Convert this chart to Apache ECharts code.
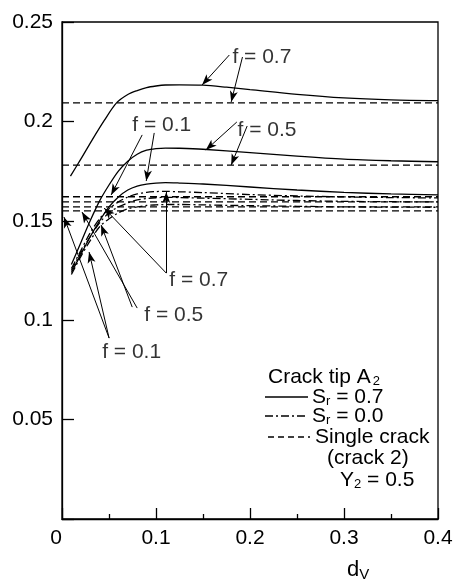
<!DOCTYPE html>
<html>
<head>
<meta charset="utf-8">
<script src="https://cdn.jsdelivr.net/npm/echarts@6/dist/echarts.min.js"></script>
<style>html,body{margin:0;padding:0;background:#fff}#c{width:456px;height:585px}</style>
</head>
<body>
<div id="c"></div>
<script>
// ---- data ----
const xTickLabels = ['0', '0.1', '0.2', '0.3', '0.4'];
const yTickLabels = ['', '0.05', '0.1', '0.15', '0.2', '0.25'];

const xF07 = [0.009, 0.02, 0.032, 0.045, 0.058, 0.07, 0.08, 0.09, 0.1, 0.11, 0.125, 0.15, 0.175, 0.2, 0.25, 0.3, 0.35, 0.4];
const solidF07 = [0.1725, 0.181, 0.1906, 0.2005, 0.2093, 0.2135, 0.2155, 0.217, 0.2178, 0.2183, 0.2184, 0.2182, 0.2172, 0.216, 0.2136, 0.2118, 0.2108, 0.2104];

const xCommon = [0.01, 0.02, 0.03, 0.04, 0.05, 0.06, 0.07, 0.08, 0.09, 0.1, 0.11, 0.125, 0.15, 0.2, 0.25, 0.3, 0.35, 0.4];
const solidF05 = [0.128, 0.139, 0.150, 0.160, 0.168, 0.175, 0.180, 0.1835, 0.1855, 0.1863, 0.1866, 0.1865, 0.186, 0.1843, 0.1825, 0.181, 0.1802, 0.1797];
const solidF01 = [0.124, 0.133, 0.142, 0.150, 0.157, 0.162, 0.1655, 0.1675, 0.1685, 0.169, 0.1692, 0.169, 0.1685, 0.167, 0.1655, 0.1643, 0.1635, 0.163];
const dashdotF07 = [0.126, 0.135, 0.144, 0.151, 0.156, 0.1595, 0.162, 0.1635, 0.1643, 0.1647, 0.1648, 0.1646, 0.1642, 0.1632, 0.1625, 0.162, 0.1617, 0.1615];
const dashdotF05 = [0.125, 0.134, 0.142, 0.149, 0.154, 0.157, 0.159, 0.1605, 0.1612, 0.1616, 0.1618, 0.1617, 0.1614, 0.1608, 0.1602, 0.1598, 0.1596, 0.1595];
const dashdotF01 = [0.123, 0.132, 0.140, 0.147, 0.151, 0.154, 0.156, 0.157, 0.1577, 0.158, 0.1582, 0.1582, 0.158, 0.1576, 0.1573, 0.157, 0.1569, 0.1568];

const singleCrack = [0.2093, 0.178, 0.1621, 0.1595, 0.157, 0.155];

// annotation labels: [x, y, text]
const annoLabels = [
  [0.1813, 0.2324, 'f = 0.7'],
  [0.0747, 0.1982, 'f = 0.1'],
  [0.1867, 0.1957, 'f = 0.5'],
  [0.1141, 0.1202, 'f = 0.7'],
  [0.0875, 0.1026, 'f = 0.5'],
  [0.0427, 0.0840, 'f = 0.1']
];
// arrows: [x1, y1, x2, y2] (tail -> head)
const annoArrows = [
  [0.178, 0.2334, 0.149, 0.2183],
  [0.192, 0.2324, 0.180, 0.2098],
  [0.0853, 0.1932, 0.0523, 0.1630],
  [0.0981, 0.1942, 0.0896, 0.1700],
  [0.186, 0.1997, 0.153, 0.1856],
  [0.197, 0.1977, 0.180, 0.1781],
  [0.1109, 0.1237, 0.1109, 0.1645],
  [0.1109, 0.1237, 0.0448, 0.1564],
  [0.0800, 0.1061, 0.0213, 0.1544],
  [0.0747, 0.1066, 0.0416, 0.1479],
  [0.0501, 0.0910, 0.0021, 0.1519],
  [0.0501, 0.0910, 0.0288, 0.1343]
];

// ---- chart ----
const FONT = 'Liberation Sans';
const FS = 21;
const pair = (xs, ys) => xs.map((x, i) => [x, ys[i]]);
const lineSeries = (xs, ys, type) => ({
  type: 'line', data: pair(xs, ys), showSymbol: false, smooth: 0.3,
  lineStyle: { color: '#000', width: 1.3, type: type }, animation: false, z: 3
});
const DASH = [7, 4];
const DASHDOT = [8, 3, 2, 3];

const series = [
  lineSeries(xF07, solidF07, 'solid'),
  lineSeries(xCommon, solidF05, 'solid'),
  lineSeries(xCommon, solidF01, 'solid'),
  lineSeries(xCommon, dashdotF07, DASHDOT),
  lineSeries(xCommon, dashdotF05, DASHDOT),
  lineSeries(xCommon, dashdotF01, DASHDOT)
];
singleCrack.forEach(v => {
  series.push({
    type: 'line', data: [[0, v], [0.4, v]], showSymbol: false,
    lineStyle: { color: '#000', width: 1.3, type: DASH }, animation: false, z: 2
  });
});
series.push({
  type: 'scatter', symbolSize: 0, animation: false, z: 5,
  data: annoLabels.map(a => [a[0], a[1]]),
  label: {
    show: true, position: 'right', distance: 0,
    formatter: p => annoLabels[p.dataIndex][2],
    color: '#000', fontFamily: FONT, fontSize: FS
  },
  markLine: {
    silent: true, animation: false,
    symbol: ['none', 'arrow'], symbolSize: [6, 11],
    lineStyle: { color: '#000', width: 1, type: 'solid' },
    label: { show: false },
    data: annoArrows.map(a => [{ coord: [a[0], a[1]] }, { coord: [a[2], a[3]] }])
  }
});

const chart = echarts.init(document.getElementById('c'), null, { renderer: 'canvas' });
chart.setOption({
  backgroundColor: '#fff',
  animation: false,
  grid: { left: 62, right: 18, top: 22, bottom: 66, show: true, borderColor: '#000', borderWidth: 1.3, backgroundColor: 'transparent' },
  xAxis: {
    type: 'value', min: 0, max: 0.4, interval: 0.1,
    axisLine: { show: true, lineStyle: { color: '#000', width: 1.3 } },
    axisTick: { show: true, inside: true, length: 11, lineStyle: { color: '#000', width: 1.3 } },
    minorTick: { show: true, splitNumber: 2, length: 5, lineStyle: { color: '#000', width: 1.3 } },
    splitLine: { show: false },
    axisLabel: {
      color: '#000', fontFamily: FONT, fontSize: FS, margin: 9,
      formatter: (v) => {
        const i = Math.round(v / 0.1);
        return i === 0 ? '{z|' + xTickLabels[i] + '}' : xTickLabels[i];
      },
      rich: { z: { fontFamily: FONT, fontSize: FS, color: '#000', padding: [0, 12, 0, 0] } }
    }
  },
  yAxis: {
    type: 'value', min: 0, max: 0.25, interval: 0.05,
    axisLine: { show: true, lineStyle: { color: '#000', width: 1.3 } },
    axisTick: { show: true, inside: true, length: 12, lineStyle: { color: '#000', width: 1.3 } },
    splitLine: { show: false },
    axisLabel: {
      color: '#000', fontFamily: FONT, fontSize: FS, margin: 9,
      formatter: (v) => yTickLabels[Math.round(v / 0.05)]
    }
  },
  graphic: [
    { type: 'text', left: 347, top: 559, style: { text: 'd{s|V}', fontFamily: FONT, fontSize: 22, fill: '#000',
      rich: { s: { fontFamily: FONT, fontSize: 15, fill: '#000', padding: [10, 0, 0, 0] } } } },
    { type: 'text', x: 268, y: 377, style: { text: 'Crack tip A{s|2}', fontFamily: FONT, fontSize: FS, fill: '#000', verticalAlign: 'middle',
      rich: { s: { fontFamily: FONT, fontSize: 13, fill: '#000', padding: [8, 0, 0, 2] } } } },
    { type: 'line', shape: { x1: 265, y1: 397, x2: 308, y2: 397 }, style: { stroke: '#000', lineWidth: 1.3 } },
    { type: 'text', x: 312, y: 397, style: { text: 'S{s|r} = 0.7', fontFamily: FONT, fontSize: FS, fill: '#000', verticalAlign: 'middle',
      rich: { s: { fontFamily: FONT, fontSize: 13, fill: '#000', padding: [8, 0, 0, 0] } } } },
    { type: 'line', shape: { x1: 265, y1: 416, x2: 308, y2: 416 }, style: { stroke: '#000', lineWidth: 1.3, lineDash: DASHDOT } },
    { type: 'text', x: 312, y: 416, style: { text: 'S{s|r} = 0.0', fontFamily: FONT, fontSize: FS, fill: '#000', verticalAlign: 'middle',
      rich: { s: { fontFamily: FONT, fontSize: 13, fill: '#000', padding: [8, 0, 0, 0] } } } },
    { type: 'line', shape: { x1: 268, y1: 437, x2: 310, y2: 437 }, style: { stroke: '#000', lineWidth: 1.3, lineDash: [6, 4] } },
    { type: 'text', x: 315, y: 437, style: { text: 'Single crack', fontFamily: FONT, fontSize: FS, fill: '#000', verticalAlign: 'middle' } },
    { type: 'text', x: 327, y: 458, style: { text: '(crack 2)', fontFamily: FONT, fontSize: FS, fill: '#000', verticalAlign: 'middle' } },
    { type: 'text', x: 340, y: 480, style: { text: 'Y{s|2} = 0.5', fontFamily: FONT, fontSize: FS, fill: '#000', verticalAlign: 'middle',
      rich: { s: { fontFamily: FONT, fontSize: 13, fill: '#000', padding: [8, 0, 0, 0] } } } }
  ],
  series: series
});
</script>
</body>
</html>
